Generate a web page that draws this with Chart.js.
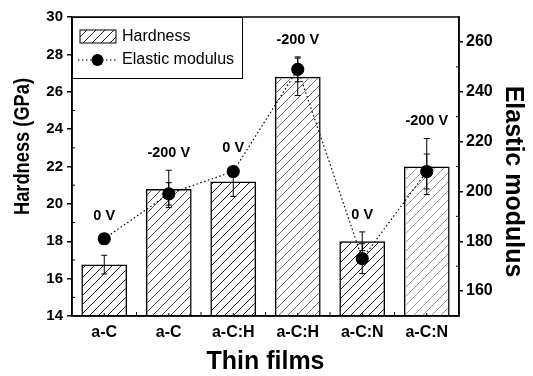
<!DOCTYPE html>
<html>
<head>
<meta charset="utf-8">
<script src="https://cdn.jsdelivr.net/npm/chart.js@4/dist/chart.umd.min.js"></script>
<style>
  html, body { margin: 0; padding: 0; background: #fff; }
  #wrap { width: 533px; height: 376px; }
</style>
</head>
<body>
<div id="wrap"><canvas id="chart"></canvas></div>
<script>
// film types and the substrate bias used for each one
const films = ['a-C', 'a-C', 'a-C:H', 'a-C:H', 'a-C:N', 'a-C:N'];
const biasLabels = ['0 V', '-200 V', '0 V', '-200 V', '0 V', '-200 V'];

// nanoindentation results
const hardness = [16.75, 20.8, 21.2, 26.8, 18.0, 22.0];      // GPa
const hardnessErr = [0.5, 1.0, 0.8, 1.0, 0.5, 1.5];
const modulus = [181, 199, 208, 249, 173, 208];              // GPa
const modulusErr = [2, 4.5, 2, 5, 6, 7];

const hardnessTicks = [14, 16, 18, 20, 22, 24, 26, 28, 30];
const modulusTicks = [160, 180, 200, 220, 240, 260];

// scan-like hatch shades for each bar
const hatchShades = ['#1c1c1c', '#4a4a4a', '#1c1c1c', '#6a6a6a', '#1c1c1c', '#9a9a9a'];

const FONT = '"Liberation Sans", Arial, sans-serif';

function hatch(color) {
  const s = 9;
  const c = document.createElement('canvas');
  c.width = s; c.height = s;
  const g = c.getContext('2d');
  g.strokeStyle = color;
  g.lineWidth = 1;
  g.beginPath();
  g.moveTo(0, s); g.lineTo(s, 0);
  g.moveTo(-1, 1); g.lineTo(1, -1);
  g.moveTo(s - 1, s + 1); g.lineTo(s + 1, s - 1);
  g.stroke();
  return g.createPattern(c, 'repeat');
}

function errorBar(ctx, x, yTop, yBot, cap) {
  ctx.beginPath();
  ctx.moveTo(x, yTop); ctx.lineTo(x, yBot);
  ctx.moveTo(x - cap, yTop); ctx.lineTo(x + cap, yTop);
  ctx.moveTo(x - cap, yBot); ctx.lineTo(x + cap, yBot);
  ctx.stroke();
}

// rotated title, optionally squeezed along its length
function verticalText(ctx, text, x, y, angle, squeeze) {
  ctx.save();
  ctx.translate(x, y);
  ctx.rotate(angle);
  ctx.scale(squeeze || 1, 1);
  ctx.fillText(text, 0, 0);
  ctx.restore();
}

// error bars go on top of the bars but under the modulus dots
const errorBars = {
  id: 'errorBars',
  afterDatasetDraw(chart, args) {
    if (args.index !== 0) return;
    const ctx = chart.ctx;
    const y = chart.scales.y, y1 = chart.scales.y1;
    const bars = chart.getDatasetMeta(0).data;
    ctx.save();
    ctx.strokeStyle = '#000';
    ctx.lineWidth = 1;
    bars.forEach((b, i) => {
      errorBar(ctx, b.x, y.getPixelForValue(hardness[i] + hardnessErr[i]),
        y.getPixelForValue(hardness[i] - hardnessErr[i]), 3);
      errorBar(ctx, b.x, y1.getPixelForValue(modulus[i] + modulusErr[i]),
        y1.getPixelForValue(modulus[i] - modulusErr[i]), 3);
    });
    ctx.restore();
  }
};

// frame, minor ticks, axis titles, bias labels and the boxed legend
const decorations = {
  id: 'decorations',
  afterDatasetsDraw(chart) {
    const ctx = chart.ctx;
    const a = chart.chartArea;
    const y = chart.scales.y, y1 = chart.scales.y1;
    const bars = chart.getDatasetMeta(0).data;
    const pts = chart.getDatasetMeta(1).data;
    ctx.save();

    ctx.strokeStyle = '#000';
    ctx.lineWidth = 1.5;
    ctx.strokeRect(a.left, a.top, a.right - a.left, a.bottom - a.top);

    ctx.lineWidth = 1;
    ctx.beginPath();
    for (let i = 0; i < hardnessTicks.length - 1; i++) {
      const p = y.getPixelForValue((hardnessTicks[i] + hardnessTicks[i + 1]) / 2);
      ctx.moveTo(a.left, p); ctx.lineTo(a.left + 3, p);
    }
    const mStep = modulusTicks[1] - modulusTicks[0];
    for (let v = modulusTicks[0] - mStep / 2; v < y1.max; v += mStep) {
      const p = y1.getPixelForValue(v);
      ctx.moveTo(a.right, p); ctx.lineTo(a.right - 3, p);
    }
    const half = (bars[1].x - bars[0].x) / 2;
    bars.forEach(b => {
      ctx.moveTo(b.x, a.bottom); ctx.lineTo(b.x, a.bottom - 3);
      ctx.moveTo(b.x + half, a.bottom); ctx.lineTo(b.x + half, a.bottom - 4);
    });
    ctx.stroke();

    // axis titles, set a little off the middle of the plot
    const midY = (a.top + a.bottom) / 2;
    ctx.fillStyle = '#000';
    ctx.textAlign = 'center';
    ctx.textBaseline = 'middle';
    ctx.font = 'bold 22px ' + FONT;
    verticalText(ctx, 'Hardness (GPa)', 23, midY - 20, -Math.PI / 2, 0.83);
    ctx.font = 'bold 25px ' + FONT;
    verticalText(ctx, 'Elastic modulus', chart.width - 20, midY + 15, Math.PI / 2);

    // bias voltage above each film
    ctx.font = 'bold 14.5px ' + FONT;
    bars.forEach((b, i) => {
      const top = Math.min(
        y.getPixelForValue(hardness[i] + hardnessErr[i]),
        y1.getPixelForValue(modulus[i] + modulusErr[i]),
        pts[i].y - 6);
      ctx.fillText(biasLabels[i], b.x, top - 17);
    });

    // legend box in the upper left corner
    ctx.font = '16px ' + FONT;
    const ds = chart.data.datasets;
    const w = 50 + ctx.measureText(ds[1].label).width + 8;
    const h = 61;
    ctx.fillStyle = '#fff';
    ctx.fillRect(a.left, a.top, w, h);
    ctx.lineWidth = 1;
    ctx.strokeRect(a.left + 0.5, a.top + 0.5, w, h);

    ctx.fillStyle = hatch(hatchShades[0]);
    ctx.fillRect(a.left + 8, a.top + 13, 36, 13);
    ctx.strokeRect(a.left + 8, a.top + 13, 36, 13);

    ctx.setLineDash([1.5, 2.5]);
    ctx.beginPath();
    ctx.moveTo(a.left + 6, a.top + 43); ctx.lineTo(a.left + 45, a.top + 43);
    ctx.stroke();
    ctx.setLineDash([]);
    ctx.fillStyle = '#000';
    ctx.beginPath();
    ctx.arc(a.left + 25.5, a.top + 43, 6, 0, Math.PI * 2);
    ctx.fill();

    ctx.textAlign = 'left';
    ctx.fillText(ds[0].label, a.left + 50, a.top + 20);
    ctx.fillText(ds[1].label, a.left + 50, a.top + 43);
    ctx.restore();
  }
};

new Chart(document.getElementById('chart'), {
  data: {
    labels: films,
    datasets: [
      {
        type: 'bar',
        label: 'Hardness',
        data: hardness,
        yAxisID: 'y',
        backgroundColor: hatchShades.map(hatch),
        borderColor: '#000',
        borderWidth: 1.5,
        barPercentage: 0.71,
        categoryPercentage: 1,
        order: 1
      },
      {
        type: 'line',
        label: 'Elastic modulus',
        data: modulus,
        yAxisID: 'y1',
        borderColor: '#000',
        borderWidth: 1.2,
        borderDash: [1.5, 2.5],
        pointRadius: 6,
        pointBackgroundColor: '#000',
        pointBorderColor: '#000',
        tension: 0,
        order: 0
      }
    ]
  },
  options: {
    responsive: true,
    maintainAspectRatio: false,
    animation: false,
    layout: { padding: { top: 17, left: 0, right: 0, bottom: 0 } },
    plugins: { legend: { display: false }, tooltip: { enabled: false } },
    scales: {
      x: {
        offset: true,
        grid: { display: false, drawTicks: false },
        border: { color: '#000', width: 1.5 },
        ticks: { color: '#000', padding: 7, font: { family: FONT, size: 16, weight: 'bold' } },
        title: {
          display: true, text: 'Thin films', color: '#000',
          font: { family: FONT, size: 25, weight: 'bold', lineHeight: 1 },
          padding: { top: 0, bottom: 1 }
        },
        afterFit(s) { s.height = 60; }
      },
      y: {
        position: 'left',
        min: 14, max: 30,
        afterBuildTicks(s) { s.ticks = hardnessTicks.map(v => ({ value: v })); },
        grid: { drawOnChartArea: false, color: '#000', lineWidth: 1.5, tickLength: 5 },
        border: { color: '#000', width: 1.5 },
        ticks: { color: '#000', padding: 4, font: { family: FONT, size: 15, weight: 'bold' } },
        afterFit(s) { s.width = 72; }
      },
      y1: {
        position: 'right',
        min: 150, max: 270,
        afterBuildTicks(s) { s.ticks = modulusTicks.map(v => ({ value: v })); },
        grid: { drawOnChartArea: false, color: '#000', lineWidth: 1.5, tickLength: 4 },
        border: { color: '#000', width: 1.5 },
        ticks: { color: '#000', padding: 3, font: { family: FONT, size: 16, weight: 'bold' } },
        afterFit(s) { s.width = 74; }
      }
    }
  },
  plugins: [errorBars, decorations]
});
</script>
</body>
</html>
